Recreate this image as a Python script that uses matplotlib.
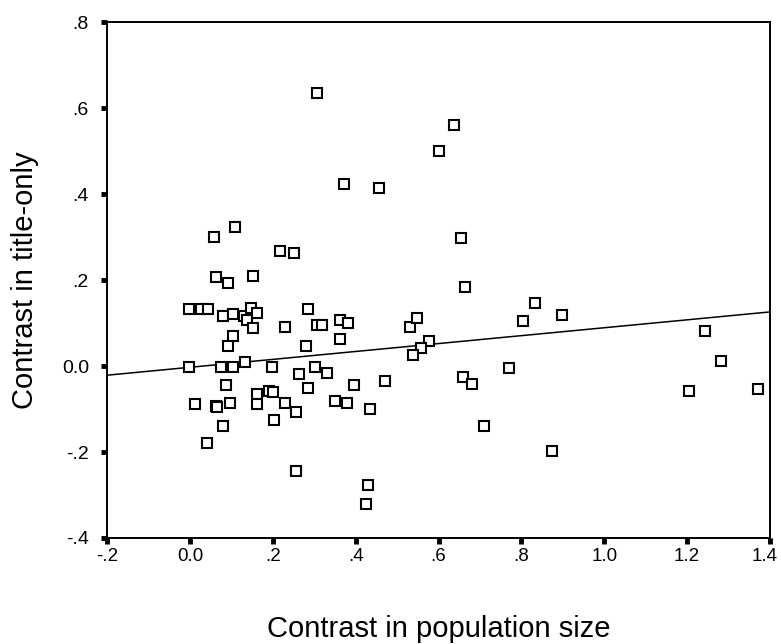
import matplotlib
matplotlib.use("Agg")
import matplotlib.pyplot as plt
import matplotlib.transforms as mtransforms
import numpy as np

plt.rcParams['font.family'] = ['Liberation Sans', 'DejaVu Sans']

# scatter values (x = contrast in population size, y = contrast in title-only)
pop_contrast = [
    0.306, 0.371, 0.457, 0.059, 0.109, 0.217, 0.252,
    0.600, 0.637, 0.655,
    0.063, 0.093, 0.152, -0.002, 0.028, 0.044, 0.080, 0.105, 0.130, 0.138,
    0.148, 0.161, 0.152, 0.105, 0.093, 0.285, 0.230, 0.306, 0.320, 0.362,
    0.382, 0.362, 0.280, -0.002, 0.076, 0.105, 0.134, 0.199, 0.264, 0.302,
    0.331, 0.472, 0.088, 0.161, 0.191, 0.200, 0.285, 0.397, 0.012, 0.063,
    0.066, 0.097, 0.161, 0.230, 0.256, 0.350, 0.378, 0.435, 0.079, 0.203,
    0.041, 0.256, 0.431, 0.425,
    0.664, 0.833, 0.897, 0.803, 1.243, 1.281, 1.205, 1.370, 0.710, 0.875,
    0.770, 0.660, 0.680, 0.531, 0.549, 0.578, 0.557, 0.539,
]
title_contrast = [
    0.636, 0.423, 0.415, 0.300, 0.324, 0.268, 0.263,
    0.501, 0.560, 0.298,
    0.206, 0.194, 0.210, 0.132, 0.132, 0.132, 0.116, 0.121, 0.116, 0.107,
    0.136, 0.124, 0.088, 0.070, 0.047, 0.133, 0.091, 0.095, 0.095, 0.107,
    0.099, 0.063, 0.047, -0.003, -0.003, -0.003, 0.009, -0.003, -0.019, -0.003,
    -0.016, -0.036, -0.044, -0.065, -0.057, -0.060, -0.052, -0.044, -0.089, -0.092,
    -0.095, -0.085, -0.089, -0.085, -0.106, -0.081, -0.085, -0.101, -0.139, -0.126,
    -0.178, -0.244, -0.277, -0.322,
    0.184, 0.147, 0.119, 0.105, 0.081, 0.012, -0.057, -0.054, -0.140, -0.197,
    -0.004, -0.025, -0.042, 0.091, 0.112, 0.058, 0.041, 0.026,
]

# fitted line as drawn in the reference
fit_intercept = -0.003
fit_slope = 0.092

xticks = [-0.2, 0.0, 0.2, 0.4, 0.6, 0.8, 1.0, 1.2, 1.4]
xticklabels = ['-.2', '0.0', '.2', '.4', '.6', '.8', '1.0', '1.2', '1.4']
yticks = [-0.4, -0.2, 0.0, 0.2, 0.4, 0.6, 0.8]
yticklabels = ['-.4', '-.2', '0.0', '.2', '.4', '.6', '.8']

fig = plt.figure(figsize=(7.81, 6.44), dpi=100)
ax = fig.add_axes([0.137, 0.1646, 0.849, 0.8012])

ax.plot(pop_contrast, title_contrast, linestyle='none', marker='s', markersize=6.5,
        markerfacecolor='white', markeredgecolor='black', markeredgewidth=1.5, zorder=3)

line_x = np.array([-0.2, 1.4])
ax.plot(line_x, fit_intercept + fit_slope * line_x, color='black', linewidth=1.1, zorder=2)

ax.set_xlim(-0.2, 1.4)
ax.set_ylim(-0.4, 0.8)
ax.set_xticks(xticks)
ax.set_xticklabels(xticklabels)
ax.set_yticks(yticks)
ax.set_yticklabels(yticklabels)
ax.tick_params(direction='out', length=4, width=3.5, labelsize=14)
ax.tick_params(axis='x', labelsize=13.5, pad=3)
ax.tick_params(axis='y', pad=9)

# last x label sits at the figure edge, nudge it in a little
last = ax.get_xticklabels()[-1]
last.set_transform(last.get_transform() + mtransforms.ScaledTranslation(-4 / 72, 0, fig.dpi_scale_trans))

for s in ax.spines.values():
    s.set_linewidth(1.4)

ax.set_xlabel('Contrast in population size', fontsize=21, va='center')
ax.xaxis.set_label_coords(0.5, -0.176)
ax.set_ylabel('Contrast in title-only', fontsize=21, va='center')
ax.yaxis.set_label_coords(-0.124, 0.5)

fig.savefig('out.png', dpi=100)
